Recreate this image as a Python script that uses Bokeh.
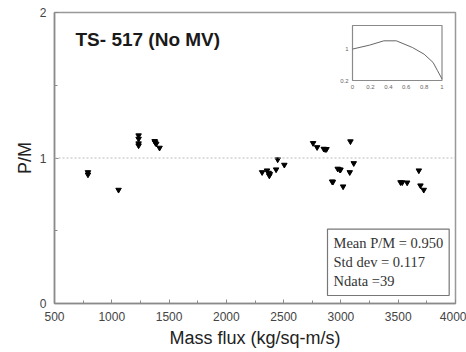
from bokeh.plotting import figure
from bokeh.models import Label, Span, Range1d, FixedTicker
from bokeh.core.properties import value
from bokeh.embed import file_html
from bokeh.resources import INLINE

# ---- data ----
mass_flux = [792, 792, 1059, 1234, 1234, 1234, 1234, 1374, 1378, 1388, 1417,
             2312, 2355, 2369, 2375, 2380, 2434, 2448, 2506,
             2757, 2792, 2850, 2862, 2874, 3083, 3112, 2972, 2990, 2996, 3077,
             2923, 2930, 3019, 3520, 3535, 3578, 3680, 3694, 3723]
pm_ratio = [0.902, 0.886, 0.781, 1.155, 1.132, 1.100, 1.086, 1.116, 1.108, 1.098, 1.070,
            0.902, 0.914, 0.898, 0.879, 0.890, 0.921, 0.990, 0.953,
            1.102, 1.074, 1.063, 1.060, 1.061, 1.114, 0.964, 0.926, 0.921, 0.919, 0.902,
            0.838, 0.836, 0.804, 0.833, 0.832, 0.831, 0.914, 0.811, 0.781]
x_ticks = [500, 1000, 1500, 2000, 2500, 3000, 3500, 4000]
y_ticks = [0, 1, 2]
title_text = "TS- 517 (No MV)"
stats_text = "Mean P/M = 0.950\nStd dev = 0.117\nNdata =39"

# inset (axial power shape)
inset_x = [0.0, 0.19, 0.35, 0.49, 0.67, 0.80, 0.90, 0.95, 1.0]
inset_y = [1.0, 1.10, 1.21, 1.21, 1.04, 0.87, 0.66, 0.45, 0.24]
inset_xlim = [0.0, 1.0]
inset_ylim = [0.2, 1.6]
inset_xticks = [0, 0.2, 0.4, 0.6, 0.8, 1]
inset_xlabels = ["0", "0.2", "0.4", "0.6", "0.8", "1"]
inset_yticks = [0.2, 1]
inset_ylabels = ["0.2", "1"]

# ---- layout constants (pixels) ----
FW, FH = 401, 291
ix0, ix1 = 298, 387.5     # inset box, px from frame left
iy0, iy1 = 223, 278       # inset box, px from frame bottom

p = figure(frame_width=FW, frame_height=FH, x_range=(500, 4000), y_range=(0, 2),
           output_backend="svg", toolbar_location=None,
           min_border_left=54, min_border_right=11, min_border_top=12, min_border_bottom=49)
p.background_fill_color = "white"
p.border_fill_color = "white"
p.outline_line_color = "#999999"
p.outline_line_width = 1.5
p.xgrid.visible = False
p.ygrid.visible = False

font = "Liberation Sans"
for ax in (p.xaxis[0], p.yaxis[0]):
    ax.axis_line_color = "#8a8a8a"
    ax.axis_line_width = 1.5
    ax.major_tick_in = 4
    ax.major_tick_out = 0
    ax.minor_tick_in = 3
    ax.minor_tick_out = 0
    ax.major_tick_line_color = "#8a8a8a"
    ax.minor_tick_line_color = "#8a8a8a"
    ax.major_label_text_font = font
    ax.major_label_text_font_size = "12px"
    ax.major_label_text_color = "#444444"
    ax.axis_label_text_font = font
    ax.axis_label_text_font_style = "normal"
    ax.axis_label_text_color = "#222222"

p.xaxis.ticker = FixedTicker(ticks=x_ticks, minor_ticks=[v + 250 for v in x_ticks[:-1]])
p.yaxis.ticker = FixedTicker(ticks=y_ticks, minor_ticks=[0.5, 1.5])
p.xaxis.axis_label = "Mass flux (kg/sq-m/s)"
p.xaxis.axis_label_text_font_size = "18px"
p.xaxis.major_label_standoff = 8
p.xaxis.axis_label_standoff = 4
p.yaxis.axis_label = "P/M"
p.yaxis.axis_label_text_font_size = "18px"
p.yaxis.major_label_standoff = 8
p.yaxis.axis_label_standoff = 2

p.add_layout(Span(location=1, dimension="width", line_color="#bbbbbb",
                  line_dash="2 2", line_width=1))

p.scatter(mass_flux, pm_ratio, marker="inverted_triangle", size=5.5,
          fill_color="black", line_color="black")

# inset via extra ranges mapped to a sub-area of the frame
sx = (ix1 - ix0) / (inset_xlim[1] - inset_xlim[0])
sy = (iy1 - iy0) / (inset_ylim[1] - inset_ylim[0])
p.extra_x_ranges = {"ins": Range1d(inset_xlim[0] - ix0 / sx, inset_xlim[1] + (FW - ix1) / sx)}
p.extra_y_ranges = {"ins": Range1d(inset_ylim[0] - iy0 / sy, inset_ylim[1] + (FH - iy1) / sy)}
p.quad(left=[inset_xlim[0]], right=[inset_xlim[1]], bottom=[inset_ylim[0]], top=[inset_ylim[1]],
       fill_color="white", line_color="#8a8a8a", line_width=1.2,
       x_range_name="ins", y_range_name="ins")
p.line(inset_x, inset_y, line_color="#666666", line_width=1,
       x_range_name="ins", y_range_name="ins")
p.text(x=inset_xticks, y=[inset_ylim[0]] * len(inset_xticks), text=inset_xlabels,
       text_font=value(font), text_font_size="6px", text_color="#666666",
       text_align="center", text_baseline="top", y_offset=4,
       x_range_name="ins", y_range_name="ins")
p.text(x=[inset_xlim[0]] * len(inset_yticks), y=inset_yticks, text=inset_ylabels,
       text_font=value(font), text_font_size="6px", text_color="#666666",
       text_align="right", text_baseline="middle", x_offset=-4,
       x_range_name="ins", y_range_name="ins")

p.add_layout(Label(x=21, y=264, x_units="screen", y_units="screen", text=title_text,
                   text_font=font, text_font_size="19px", text_font_style="bold",
                   text_color="#1a1a1a", text_baseline="middle"))

p.add_layout(Label(x=273, y=8, x_units="screen", y_units="screen", text=stats_text,
                   text_font="Liberation Serif", text_font_size="14.5px", text_color="#333333",
                   border_line_color="#777777", border_line_width=1.2,
                   background_fill_color="white", padding=6))

open("out.html", "w").write(file_html(p, INLINE))
